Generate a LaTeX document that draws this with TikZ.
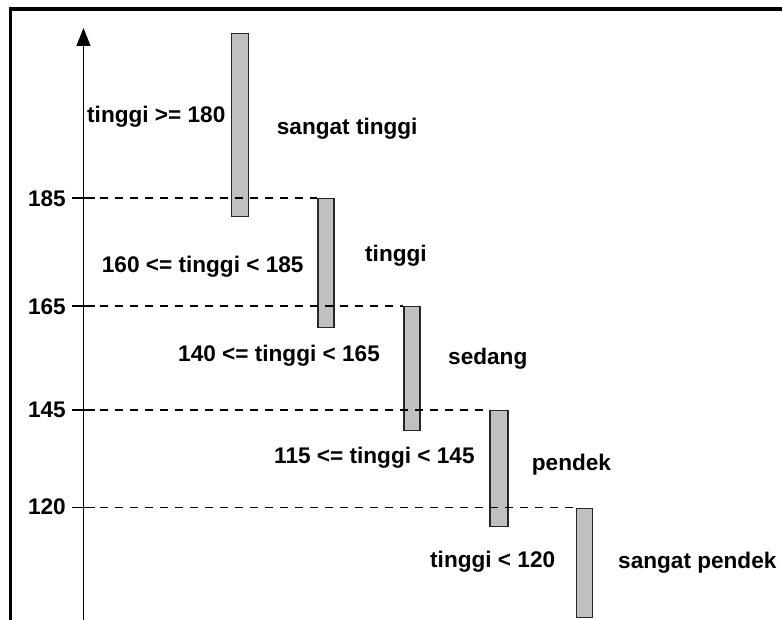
\documentclass[tikz,border=0pt]{standalone}
\usepackage{fontspec}
\setmainfont{Liberation Sans}
\usetikzlibrary{arrows.meta}
\begin{document}
\begin{tikzpicture}[x=1pt,y=-1pt,
  barbox/.style={draw=black!85, line width=1.2pt, fill={rgb,255:red,192;green,192;blue,192}, inner sep=0pt, anchor=north west, minimum width=16pt},
  lbl/.style={font=\fontsize{22.6}{26}\selectfont\bfseries, inner sep=0pt, anchor=base west},
  ylbl/.style={font=\fontsize{22.6}{26}\selectfont\bfseries, inner sep=0pt, anchor=base east},
  dline/.style={line width=1.2pt, dash pattern=on 8pt off 7pt},
  tickline/.style={line width=1.2pt}]
\useasboundingbox (0,0) rectangle (782,620);
% frame
\draw[line width=3.5pt, line join=miter] (10.5,620) -- (10.5,9) -- (782,9);
% bars
\node[barbox, minimum height=183pt, minimum width=16.5pt] (b1) at (231,33) {};
\node[barbox, minimum height=128.4pt] (b2) at (317.3,198.3) {};
\node[barbox, minimum height=124pt] (b3) at (403.3,306) {};
\node[barbox, minimum height=116pt, minimum width=18pt] (b4) at (489.3,410) {};
\node[barbox, minimum height=109pt] (b5) at (575.7,507.7) {};
% axis
\coordinate (ax0) at (83.5,620);
\coordinate (axtop) at (83.5,28);
\draw[line width=1.4pt, -{Triangle[length=18pt,width=14pt]}] (ax0) -- (axtop);
% ticks and dashed lines
\coordinate (t185) at (83.5,198);
\coordinate (t165) at (83.5,306);
\coordinate (t145) at (83.5,410);
\coordinate (t120) at (83.5,507.5);
\foreach \t/\b in {t185/b2, t165/b3, t145/b4, t120/b5}{
  \draw[tickline] ([xshift=-11.5pt]\t) -- ([xshift=11.5pt]\t);
  \draw[dline] ([xshift=16.5pt]\t) -- (\t -| \b.west);
}
% axis labels
\node[ylbl] (y185) at (66,207) {185};
\node[ylbl] (y165) at (66,315) {165};
\node[ylbl] (y145) at (66,417) {145};
\node[ylbl] (y120) at (66,514) {120};
% condition labels
\node[lbl] (c1) at (87,123) {tinggi >= 180};
\node[lbl] (c2) at (101.7,273) {160 <= tinggi < 185};
\node[lbl] (c3) at (178,362) {140 <= tinggi < 165};
\node[lbl] (c4) at (274,463) {115 <= tinggi < 145};
\node[lbl] (c5) at (430,567) {tinggi < 120};
% class labels
\node[lbl] (k1) at (276.7,135) {sangat tinggi};
\node[lbl] (k2) at (365,262) {tinggi};
\node[lbl] (k3) at (448,365) {sedang};
\node[lbl] (k4) at (531.7,470) {pendek};
\node[lbl] (k5) at (618,568) {sangat pendek};
\end{tikzpicture}
\end{document}
